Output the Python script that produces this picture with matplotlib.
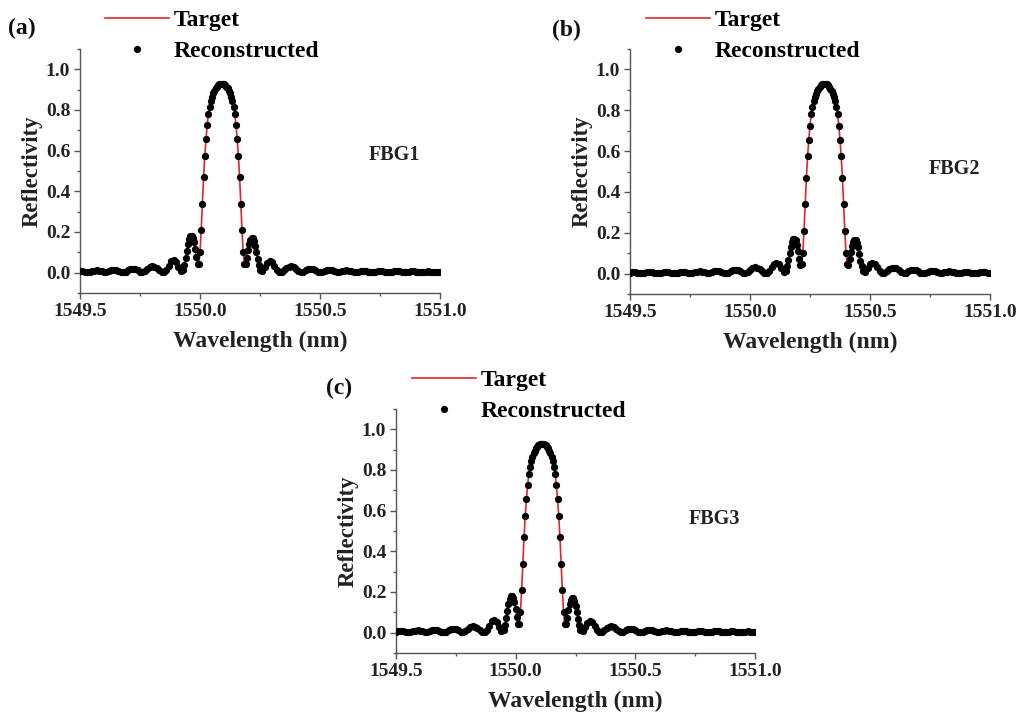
import numpy as np
import matplotlib.pyplot as plt
from matplotlib.ticker import MultipleLocator, FormatStrFormatter

plt.rcParams['font.family'] = ['Liberation Serif', 'DejaVu Serif']
plt.rcParams['font.weight'] = 'bold'

# ---------------- FBG1 (a) ----------------
wl_a = [1549.50, 1549.51, 1549.52, 1549.53, 1549.54, 1549.55, 1549.56, 1549.57, 1549.58, 1549.59,
        1549.60, 1549.61, 1549.62, 1549.63, 1549.64, 1549.65, 1549.66, 1549.67, 1549.68, 1549.69,
        1549.70, 1549.71, 1549.72, 1549.73, 1549.74, 1549.75, 1549.76, 1549.77, 1549.78, 1549.79,
        1549.80, 1549.81, 1549.82, 1549.83, 1549.84, 1549.85, 1549.86, 1549.87, 1549.88, 1549.89,
        1549.90, 1549.91, 1549.92, 1549.93,
        1549.935, 1549.940, 1549.945, 1549.950, 1549.955, 1549.960, 1549.965, 1549.970, 1549.975, 1549.980,
        1549.985, 1549.990, 1549.995, 1550.000, 1550.005, 1550.010, 1550.015, 1550.020, 1550.025, 1550.030,
        1550.035, 1550.040, 1550.045, 1550.050, 1550.055, 1550.060, 1550.065, 1550.070, 1550.075, 1550.080,
        1550.085, 1550.090, 1550.095, 1550.100, 1550.105, 1550.110, 1550.115, 1550.120, 1550.125, 1550.130,
        1550.135, 1550.140, 1550.145, 1550.150, 1550.155, 1550.160, 1550.165, 1550.170, 1550.175, 1550.180,
        1550.185, 1550.190, 1550.195, 1550.200, 1550.205, 1550.210, 1550.215, 1550.220, 1550.225, 1550.230,
        1550.235, 1550.240, 1550.245,
        1550.25, 1550.26, 1550.27, 1550.28, 1550.29, 1550.30, 1550.31, 1550.32, 1550.33, 1550.34,
        1550.35, 1550.36, 1550.37, 1550.38, 1550.39, 1550.40, 1550.41, 1550.42, 1550.43, 1550.44,
        1550.45, 1550.46, 1550.47, 1550.48, 1550.49, 1550.50, 1550.51, 1550.52, 1550.53, 1550.54,
        1550.55, 1550.56, 1550.57, 1550.58, 1550.59, 1550.60, 1550.61, 1550.62, 1550.63, 1550.64,
        1550.65, 1550.66, 1550.67, 1550.68, 1550.69, 1550.70, 1550.71, 1550.72, 1550.73, 1550.74,
        1550.75, 1550.76, 1550.77, 1550.78, 1550.79, 1550.80, 1550.81, 1550.82, 1550.83, 1550.84,
        1550.85, 1550.86, 1550.87, 1550.88, 1550.89, 1550.90, 1550.91, 1550.92, 1550.93, 1550.94,
        1550.95, 1550.96, 1550.97, 1550.98, 1550.99, 1551.00]
r_a = [0.009, 0.008, 0.005, 0.003, 0.004, 0.007, 0.010, 0.011, 0.010, 0.007,
       0.003, 0.002, 0.006, 0.011, 0.014, 0.013, 0.010, 0.005, 0.002, 0.005,
       0.012, 0.018, 0.020, 0.017, 0.011, 0.004, 0.002, 0.008, 0.018, 0.027,
       0.031, 0.029, 0.022, 0.012, 0.004, 0.002, 0.014, 0.035, 0.055, 0.061,
       0.052, 0.030, 0.008, 0.015,
       0.038, 0.070, 0.105, 0.140, 0.165, 0.178, 0.180, 0.172, 0.150, 0.115,
       0.075, 0.045, 0.045, 0.100, 0.210, 0.340, 0.470, 0.575, 0.655, 0.725,
       0.780, 0.815, 0.845, 0.866, 0.882, 0.895, 0.906, 0.915, 0.922, 0.927,
       0.929, 0.930, 0.929, 0.927, 0.922, 0.915, 0.906, 0.895, 0.882, 0.866,
       0.845, 0.815, 0.780, 0.725, 0.655, 0.575, 0.470, 0.340, 0.210, 0.100,
       0.045, 0.045, 0.072, 0.110, 0.143, 0.163, 0.171, 0.169, 0.157, 0.133,
       0.100, 0.067, 0.036,
       0.015, 0.008, 0.028, 0.049, 0.058, 0.053, 0.034, 0.014, 0.002, 0.004,
       0.012, 0.022, 0.029, 0.031, 0.027, 0.018, 0.008, 0.002, 0.004, 0.011,
       0.017, 0.020, 0.018, 0.012, 0.005, 0.002, 0.005, 0.010, 0.013, 0.014,
       0.011, 0.006, 0.002, 0.003, 0.007, 0.010, 0.011, 0.010, 0.007, 0.004,
       0.003, 0.005, 0.008, 0.009, 0.008, 0.005, 0.003, 0.003, 0.005, 0.007,
       0.008, 0.007, 0.004, 0.003, 0.003, 0.005, 0.007, 0.007, 0.006, 0.004,
       0.003, 0.003, 0.005, 0.006, 0.006, 0.005, 0.003, 0.003, 0.004, 0.005,
       0.006, 0.005, 0.004, 0.003, 0.003, 0.004]

# ---------------- FBG2 (b) ----------------
wl_b = [1549.50, 1549.51, 1549.52, 1549.53, 1549.54, 1549.55, 1549.56, 1549.57, 1549.58, 1549.59,
        1549.60, 1549.61, 1549.62, 1549.63, 1549.64, 1549.65, 1549.66, 1549.67, 1549.68, 1549.69,
        1549.70, 1549.71, 1549.72, 1549.73, 1549.74, 1549.75, 1549.76, 1549.77, 1549.78, 1549.79,
        1549.80, 1549.81, 1549.82, 1549.83, 1549.84, 1549.85, 1549.86, 1549.87, 1549.88, 1549.89,
        1549.90, 1549.91, 1549.92, 1549.93, 1549.94, 1549.95, 1549.96, 1549.97, 1549.98, 1549.99,
        1550.00, 1550.01, 1550.02, 1550.03, 1550.04, 1550.05, 1550.06, 1550.07, 1550.08, 1550.09,
        1550.10, 1550.11, 1550.12, 1550.13, 1550.14, 1550.15,
        1550.155, 1550.160, 1550.165, 1550.170, 1550.175, 1550.180, 1550.185, 1550.190, 1550.195, 1550.200,
        1550.205, 1550.210, 1550.215, 1550.220, 1550.225, 1550.230, 1550.235, 1550.240, 1550.245, 1550.250,
        1550.255, 1550.260, 1550.265, 1550.270, 1550.275, 1550.280, 1550.285, 1550.290, 1550.295, 1550.300,
        1550.305, 1550.310, 1550.315, 1550.320, 1550.325, 1550.330, 1550.335, 1550.340, 1550.345, 1550.350,
        1550.355, 1550.360, 1550.365, 1550.370, 1550.375, 1550.380, 1550.385, 1550.390, 1550.395, 1550.400,
        1550.405, 1550.410, 1550.415, 1550.420, 1550.425, 1550.430, 1550.435, 1550.440, 1550.445, 1550.450,
        1550.455, 1550.460, 1550.465,
        1550.47, 1550.48, 1550.49, 1550.50, 1550.51, 1550.52, 1550.53, 1550.54, 1550.55, 1550.56,
        1550.57, 1550.58, 1550.59, 1550.60, 1550.61, 1550.62, 1550.63, 1550.64, 1550.65, 1550.66,
        1550.67, 1550.68, 1550.69, 1550.70, 1550.71, 1550.72, 1550.73, 1550.74, 1550.75, 1550.76,
        1550.77, 1550.78, 1550.79, 1550.80, 1550.81, 1550.82, 1550.83, 1550.84, 1550.85, 1550.86,
        1550.87, 1550.88, 1550.89, 1550.90, 1550.91, 1550.92, 1550.93, 1550.94, 1550.95, 1550.96,
        1550.97, 1550.98, 1550.99, 1551.00]
r_b = [0.005, 0.006, 0.006, 0.005, 0.003, 0.003, 0.004, 0.006, 0.007, 0.007,
       0.005, 0.003, 0.003, 0.004, 0.007, 0.008, 0.007, 0.005, 0.003, 0.003,
       0.005, 0.008, 0.009, 0.008, 0.005, 0.003, 0.004, 0.007, 0.010, 0.011,
       0.010, 0.007, 0.003, 0.002, 0.006, 0.011, 0.014, 0.013, 0.010, 0.005,
       0.002, 0.005, 0.012, 0.018, 0.020, 0.017, 0.011, 0.004, 0.002, 0.008,
       0.018, 0.027, 0.031, 0.029, 0.022, 0.012, 0.004, 0.002, 0.013, 0.032,
       0.047, 0.052, 0.045, 0.027, 0.008, 0.015,
       0.036, 0.066, 0.099, 0.132, 0.156, 0.168, 0.170, 0.163, 0.142, 0.109,
       0.071, 0.043, 0.045, 0.100, 0.210, 0.340, 0.470, 0.575, 0.655, 0.725,
       0.780, 0.815, 0.845, 0.866, 0.882, 0.895, 0.906, 0.915, 0.922, 0.927,
       0.929, 0.930, 0.929, 0.927, 0.922, 0.915, 0.906, 0.895, 0.882, 0.866,
       0.845, 0.815, 0.780, 0.725, 0.655, 0.575, 0.470, 0.340, 0.210, 0.100,
       0.045, 0.043, 0.069, 0.105, 0.137, 0.157, 0.165, 0.163, 0.151, 0.128,
       0.096, 0.064, 0.035,
       0.015, 0.008, 0.026, 0.045, 0.053, 0.049, 0.031, 0.013, 0.002, 0.004,
       0.012, 0.021, 0.027, 0.029, 0.025, 0.017, 0.008, 0.002, 0.004, 0.011,
       0.017, 0.020, 0.018, 0.012, 0.005, 0.002, 0.005, 0.010, 0.013, 0.014,
       0.011, 0.006, 0.002, 0.003, 0.007, 0.010, 0.011, 0.010, 0.007, 0.004,
       0.003, 0.005, 0.008, 0.009, 0.008, 0.005, 0.003, 0.003, 0.005, 0.007,
       0.008, 0.007, 0.004, 0.003]

# ---------------- FBG3 (c) ----------------
wl_c = [1549.50, 1549.51, 1549.52, 1549.53, 1549.54, 1549.55, 1549.56, 1549.57, 1549.58, 1549.59,
        1549.60, 1549.61, 1549.62, 1549.63, 1549.64, 1549.65, 1549.66, 1549.67, 1549.68, 1549.69,
        1549.70, 1549.71, 1549.72, 1549.73, 1549.74, 1549.75, 1549.76, 1549.77, 1549.78, 1549.79,
        1549.80, 1549.81, 1549.82, 1549.83, 1549.84, 1549.85, 1549.86, 1549.87, 1549.88, 1549.89,
        1549.90, 1549.91, 1549.92, 1549.93, 1549.94, 1549.95,
        1549.955, 1549.960, 1549.965, 1549.970, 1549.975, 1549.980, 1549.985, 1549.990, 1549.995, 1550.000,
        1550.005, 1550.010, 1550.015, 1550.020, 1550.025, 1550.030, 1550.035, 1550.040, 1550.045, 1550.050,
        1550.055, 1550.060, 1550.065, 1550.070, 1550.075, 1550.080, 1550.085, 1550.090, 1550.095, 1550.100,
        1550.105, 1550.110, 1550.115, 1550.120, 1550.125, 1550.130, 1550.135, 1550.140, 1550.145, 1550.150,
        1550.155, 1550.160, 1550.165, 1550.170, 1550.175, 1550.180, 1550.185, 1550.190, 1550.195, 1550.200,
        1550.205, 1550.210, 1550.215, 1550.220, 1550.225, 1550.230, 1550.235, 1550.240, 1550.245, 1550.250,
        1550.255, 1550.260, 1550.265,
        1550.27, 1550.28, 1550.29, 1550.30, 1550.31, 1550.32, 1550.33, 1550.34, 1550.35, 1550.36,
        1550.37, 1550.38, 1550.39, 1550.40, 1550.41, 1550.42, 1550.43, 1550.44, 1550.45, 1550.46,
        1550.47, 1550.48, 1550.49, 1550.50, 1550.51, 1550.52, 1550.53, 1550.54, 1550.55, 1550.56,
        1550.57, 1550.58, 1550.59, 1550.60, 1550.61, 1550.62, 1550.63, 1550.64, 1550.65, 1550.66,
        1550.67, 1550.68, 1550.69, 1550.70, 1550.71, 1550.72, 1550.73, 1550.74, 1550.75, 1550.76,
        1550.77, 1550.78, 1550.79, 1550.80, 1550.81, 1550.82, 1550.83, 1550.84, 1550.85, 1550.86,
        1550.87, 1550.88, 1550.89, 1550.90, 1550.91, 1550.92, 1550.93, 1550.94, 1550.95, 1550.96,
        1550.97, 1550.98, 1550.99, 1551.00]
r_c = [0.005, 0.008, 0.009, 0.008, 0.005, 0.003, 0.004, 0.007, 0.010, 0.011,
       0.010, 0.007, 0.003, 0.002, 0.006, 0.011, 0.014, 0.013, 0.010, 0.005,
       0.002, 0.005, 0.012, 0.018, 0.020, 0.017, 0.011, 0.004, 0.002, 0.008,
       0.018, 0.027, 0.031, 0.029, 0.022, 0.012, 0.004, 0.002, 0.014, 0.035,
       0.055, 0.061, 0.052, 0.030, 0.008, 0.015,
       0.038, 0.070, 0.105, 0.140, 0.165, 0.178, 0.180, 0.172, 0.150, 0.115,
       0.075, 0.045, 0.045, 0.100, 0.210, 0.340, 0.470, 0.575, 0.655, 0.725,
       0.780, 0.815, 0.845, 0.866, 0.882, 0.895, 0.906, 0.915, 0.922, 0.927,
       0.929, 0.930, 0.929, 0.927, 0.922, 0.915, 0.906, 0.895, 0.882, 0.866,
       0.845, 0.815, 0.780, 0.725, 0.655, 0.575, 0.470, 0.340, 0.210, 0.100,
       0.045, 0.045, 0.072, 0.110, 0.143, 0.163, 0.171, 0.169, 0.157, 0.133,
       0.100, 0.067, 0.036,
       0.015, 0.008, 0.028, 0.049, 0.058, 0.053, 0.034, 0.014, 0.002, 0.004,
       0.012, 0.022, 0.029, 0.031, 0.027, 0.018, 0.008, 0.002, 0.004, 0.011,
       0.017, 0.020, 0.018, 0.012, 0.005, 0.002, 0.005, 0.010, 0.013, 0.014,
       0.011, 0.006, 0.002, 0.003, 0.007, 0.010, 0.011, 0.010, 0.007, 0.004,
       0.003, 0.005, 0.008, 0.009, 0.008, 0.005, 0.003, 0.003, 0.005, 0.007,
       0.008, 0.007, 0.004, 0.003, 0.003, 0.005, 0.007, 0.007, 0.006, 0.004,
       0.003, 0.003, 0.005, 0.006, 0.006, 0.005, 0.003, 0.003, 0.004, 0.005,
       0.006, 0.005, 0.004, 0.003]

panels = [
    # wl, r, tag, name, name position, legend x, axes rect (pixels: left, bottom, width, height), tag pos
    (wl_a, r_a, '(a)', 'FBG1', (1550.81, 0.58), 0.07, (80, 421, 360, 244), (8, 686)),
    (wl_b, r_b, '(b)', 'FBG2', (1550.85, 0.51), 0.045, (630, 420, 360, 245), (552, 684)),
    (wl_c, r_c, '(c)', 'FBG3', (1550.83, 0.56), 0.045, (396, 61, 359, 244), (326, 326)),
]

W, H = 1020, 714
fig = plt.figure(figsize=(W / 100, H / 100), dpi=100)

for wl, r, tag, name, name_xy, leg_x, rect, tag_xy in panels:
    ax = fig.add_axes([rect[0] / W, rect[1] / H, rect[2] / W, rect[3] / H])
    ax.plot(wl, r, color='#e0262b', lw=1.2, label='Target', zorder=2)
    ax.plot(wl, r, 'o', color='black', ms=4.2, ls='none', label='Reconstructed', zorder=3)

    ax.set_xlim(1549.5, 1551.0)
    ax.set_ylim(-0.1, 1.1)
    ax.xaxis.set_major_locator(MultipleLocator(0.5))
    ax.xaxis.set_minor_locator(MultipleLocator(0.25))
    ax.yaxis.set_minor_locator(MultipleLocator(0.1))
    ax.xaxis.set_major_formatter(FormatStrFormatter('%.1f'))
    ax.yaxis.set_major_formatter(FormatStrFormatter('%.1f'))
    ax.set_yticks([0.0, 0.2, 0.4, 0.6, 0.8, 1.0])

    for s in ['top', 'right']:
        ax.spines[s].set_visible(False)
    for s in ['left', 'bottom']:
        ax.spines[s].set_color('#555555')
        ax.spines[s].set_linewidth(1.0)
    ax.tick_params(which='major', direction='out', length=4, width=1, color='#555555',
                   labelsize=14, labelcolor='#222222', pad=3)
    ax.tick_params(which='minor', direction='out', length=2.5, width=1, color='#555555')

    ax.set_xlabel('Wavelength (nm)', fontsize=17, fontweight='bold', color='#222222')
    ax.set_ylabel('Reflectivity', fontsize=16.5, fontweight='bold', color='#222222')
    ax.xaxis.set_label_coords(0.5, -0.155)
    ax.yaxis.set_label_coords(-0.105, 0.5)

    ax.text(name_xy[0], name_xy[1], name, fontsize=14.5, fontweight='bold',
            color='#222222', ha='center', va='center')

    ax.legend(loc='upper left', bbox_to_anchor=(leg_x, 1.16), frameon=False,
              fontsize=17, handlelength=2.7, handletextpad=0.2, labelspacing=0.4,
              borderpad=0, borderaxespad=0, numpoints=1)

    fig.text(tag_xy[0] / W, tag_xy[1] / H, tag, fontsize=17, fontweight='bold',
             color='#111111', ha='left', va='center')

fig.savefig('out.png', dpi=100)
